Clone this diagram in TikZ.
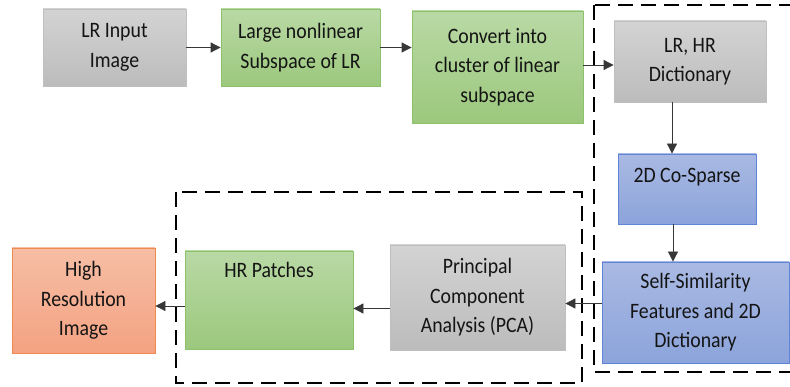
\documentclass[tikz,border=0pt]{standalone}
\usepackage{fontspec}
\setmainfont{Carlito}[FakeStretch=0.9]
\usetikzlibrary{arrows.meta}
\definecolor{grayT}{HTML}{D3D3D3}
\definecolor{grayB}{HTML}{BCBCBC}
\definecolor{grayE}{HTML}{BFBFBF}
\definecolor{greenT}{HTML}{B9D9A5}
\definecolor{greenB}{HTML}{9CC87D}
\definecolor{greenE}{HTML}{8CC26B}
\definecolor{blueT}{HTML}{A9B9E3}
\definecolor{blueB}{HTML}{8CA4DB}
\definecolor{blueE}{HTML}{5F86D6}
\definecolor{orT}{HTML}{F6BEA5}
\definecolor{orB}{HTML}{F4A282}
\definecolor{orE}{HTML}{EE8A4D}
\definecolor{ink}{HTML}{141414}
\begin{document}
\begin{tikzpicture}[x=1pt,y=-1pt,
  box/.style={rectangle, line width=0.8pt, align=center, text=ink,
    font=\fontsize{22}{29.5}\selectfont, inner sep=0pt},
  graybox/.style={box, draw=grayE, top color=grayT, bottom color=grayB},
  greenbox/.style={box, draw=greenE, top color=greenT, bottom color=greenB},
  bluebox/.style={box, draw=blueE, top color=blueT, bottom color=blueB},
  orangebox/.style={box, draw=orE, top color=orT, bottom color=orB},
  arr/.style={draw=ink!85, line width=0.8pt, -{Triangle[length=10pt,width=10pt]}},
  group/.style={draw=black, line width=2.8pt, dash pattern=on 15pt off 8pt}]
\useasboundingbox (0,0) rectangle (790,387);
\clip (0,0) rectangle (790,387);

% dashed group frames
\draw[group] (594,5) rectangle (810,372);
\draw[group] (176,192) rectangle (582,383);

% processing blocks
\node[graybox, minimum width=143pt, minimum height=77pt] (lr) at (114.5,47.5) {LR Input\\Image};
\node[greenbox, minimum width=159pt, minimum height=77pt] (large) at (300.5,47.5) {Large nonlinear\\Subspace of LR};
\node[greenbox, minimum width=171pt, minimum height=112pt] (conv) at (497.5,67) {Convert into\\cluster of linear\\subspace};
\node[graybox, minimum width=152pt, minimum height=81pt] (dict) at (690,61.5) {LR, HR\\Dictionary};
\node[bluebox, minimum width=138pt, minimum height=70pt] (cosp) at (687,189)
  {\raisebox{6pt}[0pt][0pt]{2D Co-Sparse}};
\node[bluebox, minimum width=187pt, minimum height=101pt] (self) at (695.5,312.5) {Self-Similarity\\Features and 2D\\Dictionary};
\node[graybox, minimum width=175pt, minimum height=105pt] (pca) at (477.5,297.5) {Principal\\Component\\Analysis (PCA)};
\node[greenbox, minimum width=168pt, minimum height=98pt] (hrp) at (269,300)
  {\raisebox{22pt}[0pt][0pt]{HR Patches}};
\node[orangebox, minimum width=143pt, minimum height=105pt] (high) at (83.5,300.5) {High\\Resolution\\Image};

% flow
\draw[arr] (lr.east) -- (large.west);
\draw[arr] (large.east) -- (large.east -| conv.west);
\draw[arr] ([yshift=2pt]conv.east) -- ([yshift=2pt]conv.east -| dict.west);
\draw[arr] ([xshift=-18pt]dict.south) -- ([xshift=-18pt]dict.south |- cosp.north);
\draw[arr] ([xshift=-14pt]cosp.south) -- ([xshift=-14pt]cosp.south |- self.north);
\draw[arr] ([yshift=9pt]self.west) -- ([yshift=9pt]self.west -| pca.east);
\draw[arr] ([yshift=-11pt]pca.west) -- ([yshift=-11pt]pca.west -| hrp.east);
\draw[arr] ([yshift=-6pt]hrp.west) -- ([yshift=-6pt]hrp.west -| high.east);
\end{tikzpicture}
\end{document}
